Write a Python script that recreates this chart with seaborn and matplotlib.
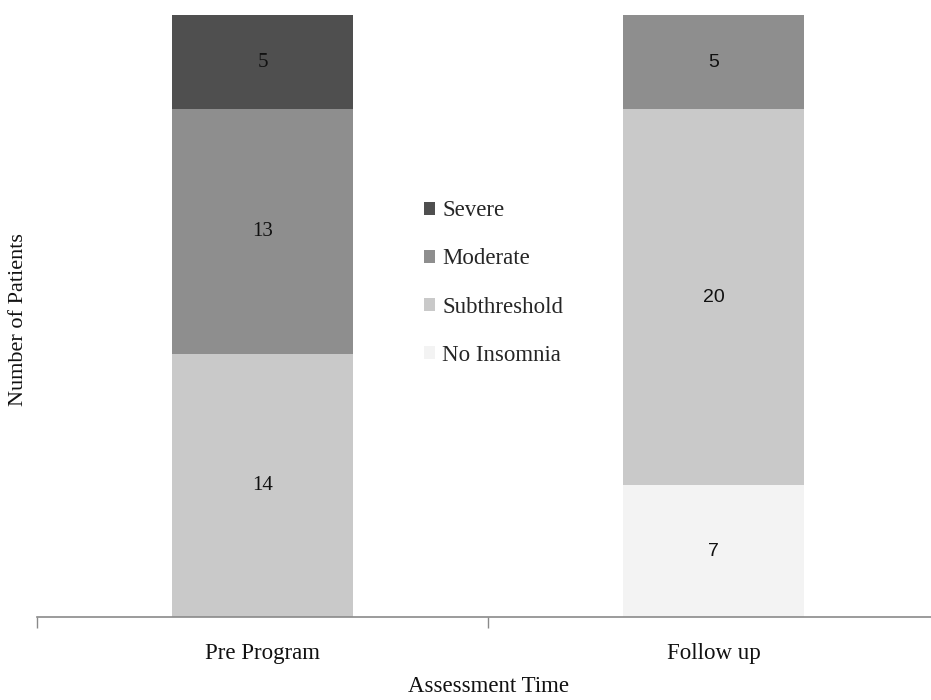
import matplotlib
matplotlib.use("Agg")
import matplotlib.pyplot as plt
import seaborn as sns
import pandas as pd
import numpy as np
from matplotlib.patches import Patch

# Insomnia severity counts per assessment time
times = ["Pre Program", "Follow up"]
no_insomnia = [0, 7]
subthreshold = [14, 20]
moderate = [13, 5]
severe = [5, 0]

levels = ["No Insomnia", "Subthreshold", "Moderate", "Severe"]
colors = {"No Insomnia": "#f3f3f3", "Subthreshold": "#c9c9c9",
          "Moderate": "#8e8e8e", "Severe": "#4f4f4f"}

df = pd.DataFrame({"time": times, "No Insomnia": no_insomnia,
                   "Subthreshold": subthreshold, "Moderate": moderate,
                   "Severe": severe})

sns.set_theme(style="white")
plt.rcParams["font.family"] = ["Liberation Serif", "DejaVu Serif"]

W, H = 931, 700
fig = plt.figure(figsize=(W / 100, H / 100), dpi=100)
ax = fig.add_axes([37 / W, (H - 617) / H, 902 / W, 602 / H])

bottom = np.zeros(len(times))
for lvl in levels:
    vals = df[lvl].to_numpy()
    sns.barplot(data=df, x="time", y=lvl, color=colors[lvl], width=0.4,
                bottom=bottom, ax=ax, saturation=1, linewidth=0)
    for i, v in enumerate(vals):
        if v > 0:
            fam = ["Liberation Serif"] if i == 0 else ["Liberation Sans"]
            ax.text(i, bottom[i] + v / 2, str(v), ha="center", va="center",
                    fontsize=15 if i == 0 else 14, color="#111111", family=fam)
    bottom = bottom + vals

ax.set_xlim(-0.5, 1.5)
ax.set_ylim(0, 32)
ax.set_yticks([])
for s in ["top", "right", "left"]:
    ax.spines[s].set_visible(False)
ax.spines["bottom"].set_color("#8a8a8a")
ax.spines["bottom"].set_linewidth(1.2)

ax.set_xticks([0, 1])
ax.set_xticklabels(times, fontsize=16.5)
ax.tick_params(axis="x", which="major", length=0, pad=19, colors="#111111")
ax.set_xticks([-0.5, 0.5, 1.5], minor=True)
ax.tick_params(axis="x", which="minor", length=8, width=1, color="#8a8a8a",
               direction="out", bottom=True)

ax.set_xlabel("")
ax.set_ylabel("")
fig.text(488 / W, 1 - 687 / H, "Assessment Time", ha="center", va="center",
         fontsize=16.5, color="#111111")
fig.text(19 / W, 1 - 320 / H, "Number of Patients", ha="center", va="center",
         rotation=90, fontsize=16, color="#111111")

handles = [Patch(facecolor=colors[l], edgecolor="none", label=l)
           for l in reversed(levels)]
fig.legend(handles=handles, loc="center left",
           bbox_to_anchor=(424 / W, 1 - 283 / H), frameon=False,
           fontsize=16.5, handlelength=0.5, handleheight=0.5,
           handletextpad=0.3, labelspacing=1.18, borderpad=0,
           borderaxespad=0)

fig.savefig("out.png", dpi=100, facecolor="white")
